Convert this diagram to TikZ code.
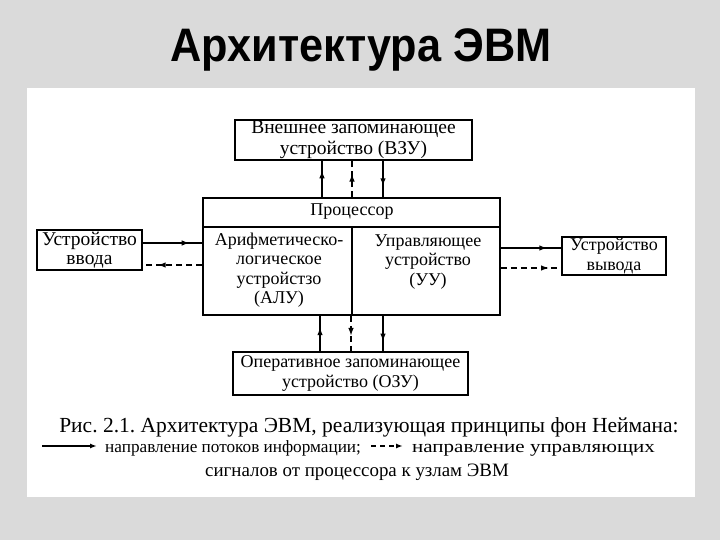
\documentclass[tikz,border=0pt]{standalone}
\usepackage{fontspec}
\setmainfont{Liberation Serif}
\newfontfamily\titlefont{Liberation Sans}
\usetikzlibrary{decorations.markings,arrows.meta}
\definecolor{marble}{RGB}{218,218,218}
\frenchspacing
\tikzset{
  box/.style={draw, line width=1.7pt, inner sep=0pt, align=center,
    font=\fontsize{18}{20}\selectfont},
  txt/.style={inner sep=0pt, align=center, font=\fontsize{18}{19.5}\selectfont},
  flow/.style={line width=1.5pt, postaction={decorate},
    decoration={markings, mark=at position #1 with {\arrow{Latex[length=8pt,width=5.5pt]}}}},
  flow/.default=0.7,
  ctrl/.style={flow=#1, dash pattern=on 6pt off 4pt},
  ctrl/.default=0.6,
  captxt/.style={inner sep=0pt, anchor=base}
}
\begin{document}
\begin{tikzpicture}[x=1pt,y=-1pt]
\useasboundingbox (0,0) rectangle (720,540);
\fill[marble] (0,0) rectangle (720,540);
\fill[white] (27,88) rectangle (695,497);
\node[inner sep=0pt, anchor=base, font=\titlefont\bfseries\fontsize{47}{50}\selectfont] (title) at (361,62) {\scalebox{0.92}[1]{Архитектура ЭВМ}};

% boxes
\node[box, minimum width=237pt, minimum height=40pt, font=\fontsize{19.5}{21}\selectfont] (vzu) at (353.5,140) {Внешнее запоминающее\\устройство (ВЗУ)};
\node[box, minimum width=297pt, minimum height=117pt] (proc) at (351.5,256.5) {};
\node[txt] (proct) at (352,212) {Процессор};
\node[txt] (alu) at (279,270) {Арифметическо-\\логическое\\устройстзо\\(АЛУ)};
\node[txt] (uu) at (428,262) {Управляющее\\устройство\\(УУ)};
\node[box, minimum width=105pt, minimum height=40pt, font=\fontsize{19.5}{19}\selectfont] (in) at (89.5,250) {Устройство\\ввода};
\node[box, minimum width=104pt, minimum height=38pt] (out) at (614,256) {Устройство\\вывода};
\node[box, minimum width=235pt, minimum height=43pt] (ozu) at (350.5,373.5) {Оперативное запоминающее\\устройство (ОЗУ)};

\coordinate (hl) at (203,227);
\coordinate (dv) at (352,227);
\draw[line width=1.7pt] (hl) -- (hl -| proc.east);
\draw[line width=1.7pt] (dv) -- (dv |- proc.south);

% vertical connectors
\coordinate (a) at (322,0);
\coordinate (b) at (352,0);
\coordinate (c) at (383,0);
\coordinate (d) at (320,0);
\coordinate (e) at (351,0);
\coordinate (f) at (383,0);
\draw[flow=0.74] (proc.north -| a) -- (vzu.south -| a);
\draw[ctrl=0.65] (proc.north -| b) -- (vzu.south -| b);
\draw[flow=0.7] (vzu.south -| c) -- (proc.north -| c);
\draw[flow=0.68] (ozu.north -| d) -- (proc.south -| d);
\draw[ctrl=0.57] (proc.south -| e) -- (ozu.north -| e);
\draw[flow=0.73] (proc.south -| f) -- (ozu.north -| f);

% horizontal connectors
\coordinate (g) at (0,243);
\coordinate (h) at (0,265);
\coordinate (i) at (0,248);
\coordinate (j) at (0,268);
\draw[flow=0.79] (in.east |- g) -- (proc.west |- g);
\draw[ctrl=0.75] (proc.west |- h) -- (in.east |- h);
\draw[flow=0.77] (proc.east |- i) -- (out.west |- i);
\draw[ctrl=0.8] (proc.east |- j) -- (out.west |- j);

% caption
\node[captxt, font=\fontsize{21.5}{24}\selectfont] (cap1) at (369,432) {Рис. 2.1. Архитектура ЭВМ, реализующая принципы фон Неймана:};
\coordinate (l1a) at (42,446);
\coordinate (l1b) at (97,446);
\node[captxt, anchor=base west, font=\fontsize{17.2}{20}\selectfont] (cap2) at (105,452) {направление потоков информации;};
\coordinate (l2a) at (371,446);
\coordinate (l2b) at (403,446);
\node[captxt, anchor=base west, font=\fontsize{17.5}{20}\selectfont] (cap3) at (412,452) {\scalebox{1.2}[1]{направление управляющих}};
\node[captxt, font=\fontsize{18.9}{20}\selectfont] (cap4) at (357,476) {сигналов от процессора к узлам ЭВМ};
\draw[line width=1.4pt, -{Latex[length=7pt,width=5pt]}] (l1a) -- (l1b);
\draw[line width=1.4pt, dash pattern=on 5pt off 4pt, -{Latex[length=7pt,width=5pt]}] (l2a) -- (l2b);
\end{tikzpicture}
\end{document}
